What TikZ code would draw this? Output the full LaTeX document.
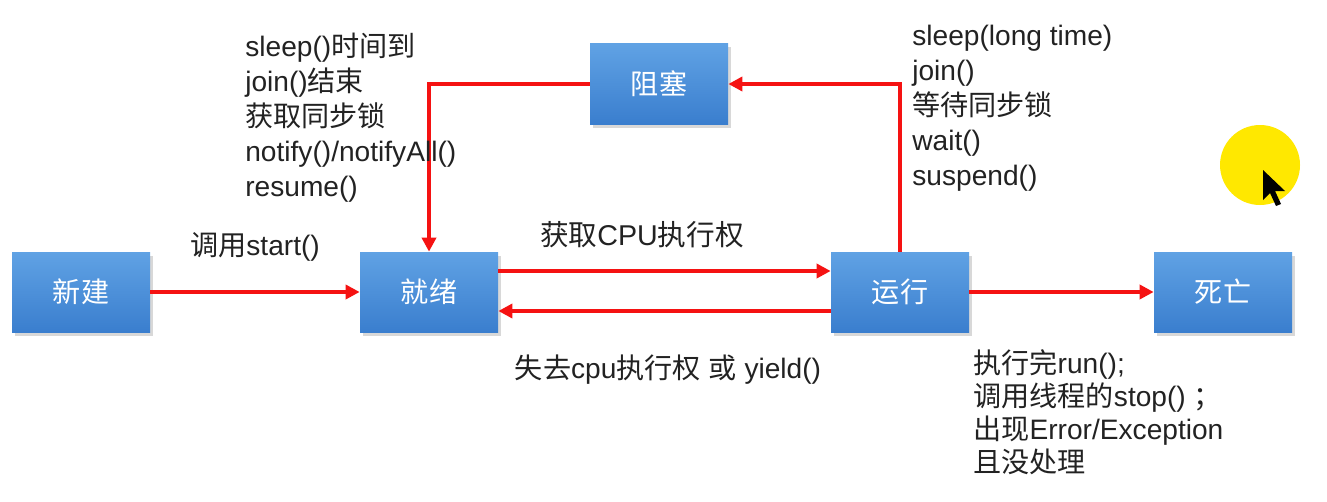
\documentclass[tikz,border=0pt]{standalone}
\usepackage{fontspec}
\setmainfont{Liberation Sans}
\newfontfamily\cjk{Noto Sans CJK SC}
\usetikzlibrary{arrows.meta,shadows}

\definecolor{boxtop}{RGB}{96,162,228}
\definecolor{boxbot}{RGB}{58,126,206}
\definecolor{arrred}{RGB}{245,18,18}
\definecolor{txt}{RGB}{34,34,34}
\definecolor{hlyellow}{RGB}{255,232,0}

\begin{document}
\begin{tikzpicture}[
	statebox/.style={rectangle, minimum width=2.76cm, minimum height=1.6cm,
		top color=boxtop, bottom color=boxbot,
		drop shadow={opacity=0.3, shadow xshift=0.05cm, shadow yshift=-0.07cm},
		text=white, font=\fontsize{16}{19}\selectfont\cjk},
	note/.style={align=left, anchor=west, inner sep=0pt, text=txt,
		font=\fontsize{16}{19.9}\selectfont},
	flow/.style={draw=arrred, line width=2pt, -{Triangle[length=8pt,width=8pt]}}
	]
		\fill[white] (0,0) rectangle (26.54,-10.02);
		\useasboundingbox (0,0) rectangle (26.54,-10.02);

		% states
		\node [statebox] (new) at (1.62,-5.84) {新建};
		\node [statebox] (ready) at (8.58,-5.84) {就绪};
		\node [statebox] (blocked) at (13.18,-1.68) {阻塞};
		\node [statebox] (running) at (18.0,-5.84) {运行};
		\node [statebox] (dead) at (24.46,-5.84) {死亡};

		% transitions
		\draw[flow] (new) -- (ready);
		\draw[flow] ([yshift=0.42cm]ready.east) -- ([yshift=0.42cm]running.west);
		\draw[flow] ([yshift=-0.38cm]running.west) -- ([yshift=-0.38cm]ready.east);
		\draw[flow] (running) -- (dead);
		\draw[flow] (running.north) |- (blocked.east);
		\draw[flow] (blocked.west) -| (ready.north);

		% labels
		\node [note, anchor=center] (lstart) at (5.1,-4.94) {{\cjk 调用}start()};
		\node [note, anchor=center, font=\fontsize{16.3}{20}\selectfont] (lget) at (12.84,-4.7) {{\cjk 获取}CPU{\cjk 执行权}};
		\node [note, anchor=center] (llose) at (13.36,-7.4) {{\cjk 失去}cpu{\cjk 执行权} {\cjk 或} yield()};
		\node [note] (lwake) at (4.9,-2.35) {sleep(){\cjk 时间到}\\join(){\cjk 结束}\\{\cjk 获取同步锁}\\notify()/notifyAll()\\resume()};
		\node [note] (lblock) at (18.24,-2.16) {sleep(long time)\\join()\\{\cjk 等待同步锁}\\wait()\\suspend()};
		\node [note, font=\fontsize{16}{18.8}\selectfont] (lend) at (19.46,-8.25) {{\cjk 执行完}run();\\{\cjk 调用线程的}stop() {\cjk ；}\\{\cjk 出现}Error/Exception\\{\cjk 且没处理}};

		% pointer highlight
		\fill[hlyellow] (25.2,-3.3) circle (0.8cm);
		\fill[black] (25.26,-3.4) -- (25.26,-4.0) -- (25.4,-3.86) -- (25.52,-4.12)
			-- (25.62,-4.08) -- (25.5,-3.82) -- (25.7,-3.82) -- cycle;
	\end{tikzpicture}
\end{document}
